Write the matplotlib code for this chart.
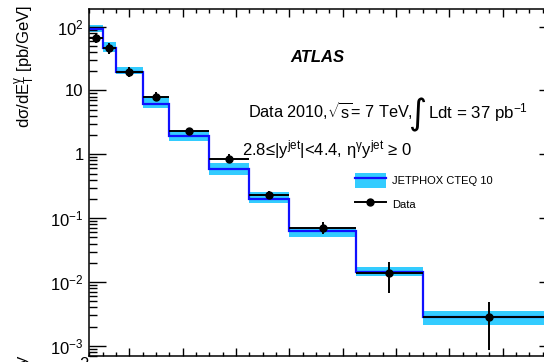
import numpy as np
import matplotlib
matplotlib.use("Agg")
import matplotlib.pyplot as plt
from matplotlib.ticker import MultipleLocator, LogLocator, NullFormatter
from matplotlib.patches import Patch
from matplotlib.lines import Line2D

plt.rcParams['font.family'] = ['Liberation Sans', 'DejaVu Sans']
plt.rcParams['mathtext.fontset'] = 'custom'
plt.rcParams['mathtext.rm'] = 'Liberation Sans'
plt.rcParams['mathtext.it'] = 'Liberation Sans:italic'
plt.rcParams['mathtext.bf'] = 'Liberation Sans:bold'

# ---- data ----
bin_edges = [25, 30, 35, 45, 55, 70, 85, 100, 125, 150, 200]
data_vals = [65.8, 46.0, 19.8, 8.0, 2.32, 0.853, 0.233, 0.0707, 0.0138, 0.00282]
data_err_up = [13.0, 9.0, 3.8, 1.3, 0.3, 0.15, 0.034, 0.0155, 0.0068, 0.00199]
data_err_dn = [10.8, 9.0, 3.7, 1.2, 0.3, 0.13, 0.028, 0.0149, 0.0070, 0.00197]
theory_vals = [92.0, 46.0, 19.7, 6.1, 1.96, 0.589, 0.201, 0.0628, 0.01445, 0.00279]
theory_up = [106.0, 57.0, 23.4, 8.29, 2.34, 0.723, 0.26, 0.0707, 0.0169, 0.00352]
theory_dn = [83.5, 40.6, 17.9, 5.26, 1.633, 0.479, 0.174, 0.0514, 0.0125, 0.00211]
ytick_vals = [1e-3, 1e-2, 1e-1, 1, 10, 100]
ytick_labels = [r'10$^{\mathregular{-3}}$', r'10$^{\mathregular{-2}}$', r'10$^{\mathregular{-1}}$',
                '1', '10', r'10$^{\mathregular{2}}$']

cyan = '#33CCFF'
blue = '#1010FF'

W, H = 544, 362
fig = plt.figure(figsize=(W / 100, H / 100), dpi=100)
x0, x1, yt, yb = 89.3, 556.0, 9.0, 355.7
ax = fig.add_axes([x0 / W, 1 - yb / H, (x1 - x0) / W, (yb - yt) / H])

edges = np.array(bin_edges, dtype=float)
centers = 0.5 * (edges[:-1] + edges[1:])
halfw = 0.5 * np.diff(edges)

ax.stairs(theory_up, edges, baseline=theory_dn, fill=True, color=cyan, lw=0, zorder=1)
ax.stairs(theory_vals, edges, baseline=None, color=blue, lw=1.6, zorder=2)
ax.errorbar(centers, data_vals, xerr=halfw, yerr=[data_err_dn, data_err_up],
            fmt='o', color='k', ms=5, elinewidth=1.4, capsize=0, zorder=3)

ax.set_yscale('log')
ax.set_xlim(25, 200)
ax.set_ylim(7.0e-4, 189)
ax.set_yticks(ytick_vals, ytick_labels)
ax.yaxis.set_minor_locator(LogLocator(base=10, subs=np.arange(2, 10)))
ax.yaxis.set_minor_formatter(NullFormatter())
ax.xaxis.set_major_locator(MultipleLocator(20))
ax.xaxis.set_minor_locator(MultipleLocator(5))

ax.tick_params(axis='y', which='major', direction='in', length=12, width=1.0,
               left=True, right=True, labelsize=12, pad=4)
ax.tick_params(axis='y', which='minor', direction='in', length=5.8, width=1.0,
               left=True, right=True)
ax.tick_params(axis='x', which='major', direction='in', length=6, width=1.0,
               top=True, bottom=True, labelbottom=False)
ax.tick_params(axis='x', which='minor', direction='in', length=3, width=1.0,
               top=True, bottom=True)
for s in ax.spines.values():
    s.set_linewidth(1.1)

def fx(px):
    return px / W

def fy(py):
    return 1 - py / H

fig.text(fx(25), fy(5), r'd$\mathregular{σ}$/dE$_{\mathregular{T}}^{\mathregular{γ}}$ [pb/GeV]',
         rotation=90, ha='center', va='top', fontsize=12)

fig.text(fx(290), fy(57.7), 'ATLAS', fontsize=12, fontweight='bold', fontstyle='italic',
         ha='left', va='center')
fig.text(fx(247.7), fy(118.3), r'Data 2010,$\sqrt{\mathregular{s}}$= 7 TeV,', fontsize=11.7,
         ha='left', va='baseline')
fig.text(fx(408), fy(114.5), '∫', fontsize=25, family='DejaVu Sans', ha='left', va='center')
fig.text(fx(428.3), fy(118.3), r'Ldt = 37 pb$^{\mathregular{-1}}$', fontsize=12.2,
         ha='left', va='baseline')
fig.text(fx(241.7), fy(155),
         r'2.8≤|y$^{\mathregular{jet}}$|<4.4, η$^{\mathregular{γ}}$y$^{\mathregular{jet}}$ ≥ 0',
         fontsize=12, ha='left', va='baseline')

fs = 8
fpx = fs * 100 / 72
h1 = (Patch(facecolor=cyan, edgecolor='none'), Line2D([], [], color=blue, lw=1.6))
h2 = Line2D([], [], color='k', marker='o', ms=5, lw=1.4)
ax.legend([h1, h2], ['JETPHOX CTEQ 10', 'Data'], loc='upper left',
          bbox_to_anchor=(fx(355), fy(172.7)), bbox_transform=fig.transFigure,
          frameon=False, fontsize=fs, handlelength=30.7 / fpx, handleheight=20 / fpx,
          handletextpad=6 / fpx, labelspacing=8.3 / fpx, borderpad=0, borderaxespad=0)

fig.text(fx(88), fy(357.3), '2', fontsize=12, ha='right', va='top')
fig.text(fx(22.5), fy(356), 'y', fontsize=12, rotation=90, ha='center', va='top')

fig.savefig('out.png', dpi=100)
